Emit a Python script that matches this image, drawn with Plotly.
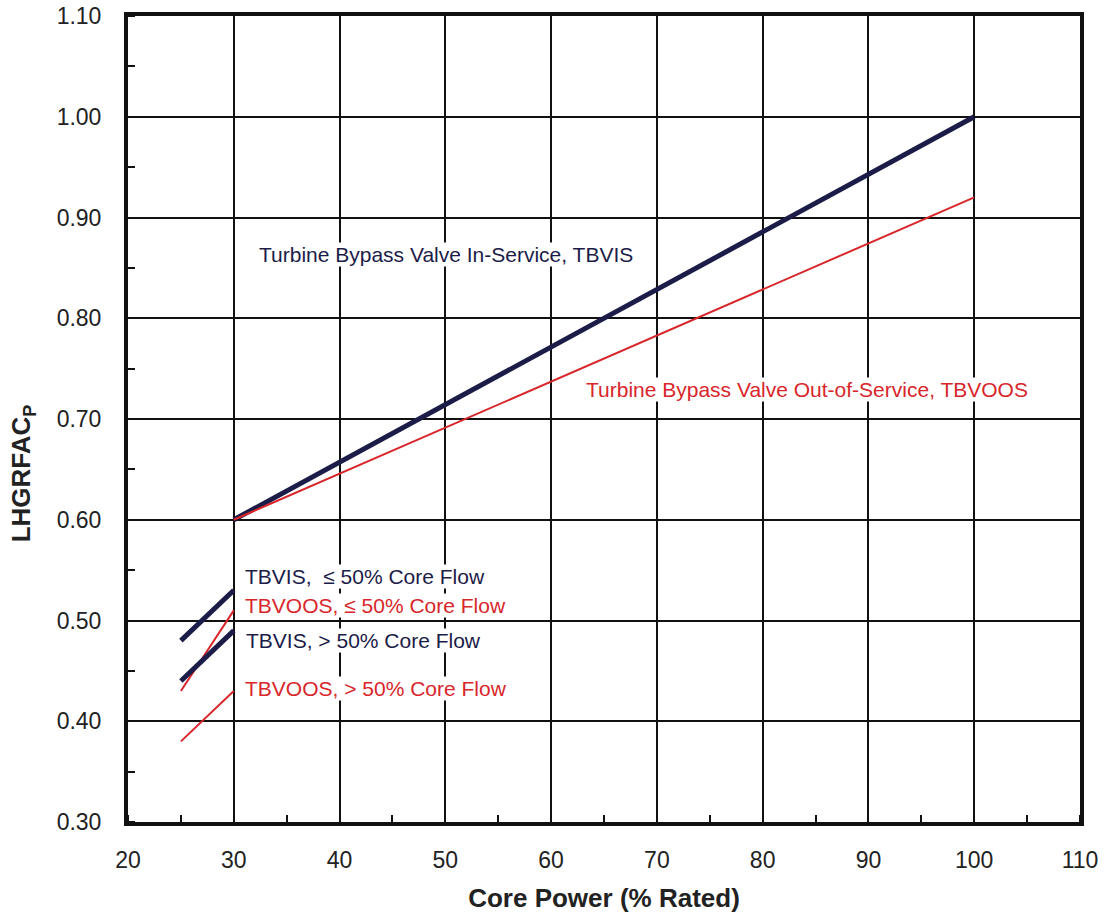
import plotly.graph_objects as go

# Data
power_main = [30, 100]
tbvis_main = [0.60, 1.00]
tbvoos_main = [0.60, 0.92]

power_low = [25, 30]
tbvis_le50 = [0.48, 0.53]
tbvoos_le50 = [0.43, 0.51]
tbvis_gt50 = [0.44, 0.49]
tbvoos_gt50 = [0.38, 0.43]

x_ticks = [20, 30, 40, 50, 60, 70, 80, 90, 100, 110]
y_ticks = [0.30, 0.40, 0.50, 0.60, 0.70, 0.80, 0.90, 1.00, 1.10]

NAVY = "#1c1c48"
RED = "#d8262b"
FONT = "Arial, Liberation Sans, sans-serif"

fig = go.Figure()
fig.add_trace(go.Scatter(x=power_main, y=tbvis_main, mode="lines",
                         line=dict(color=NAVY, width=5)))
fig.add_trace(go.Scatter(x=power_main, y=tbvoos_main, mode="lines",
                         line=dict(color=RED, width=2)))
fig.add_trace(go.Scatter(x=power_low, y=tbvis_le50, mode="lines",
                         line=dict(color=NAVY, width=5)))
fig.add_trace(go.Scatter(x=power_low, y=tbvoos_le50, mode="lines",
                         line=dict(color=RED, width=2)))
fig.add_trace(go.Scatter(x=power_low, y=tbvis_gt50, mode="lines",
                         line=dict(color=NAVY, width=5)))
fig.add_trace(go.Scatter(x=power_low, y=tbvoos_gt50, mode="lines",
                         line=dict(color=RED, width=2)))

labels = [
    ("Turbine Bypass Valve In-Service, TBVIS", 32.3, 0.863, NAVY),
    ("Turbine Bypass Valve Out-of-Service, TBVOOS", 63.2, 0.729, RED),
    ("TBVIS,  \u2264 50% Core Flow", 31.0, 0.544, NAVY),
    ("TBVOOS, \u2264 50% Core Flow", 31.0, 0.515, RED),
    ("TBVIS, > 50% Core Flow", 31.1, 0.480, NAVY),
    ("TBVOOS, > 50% Core Flow", 31.0, 0.433, RED),
]
for text, x, y, c in labels:
    fig.add_annotation(x=x, y=y, text=text, showarrow=False, xanchor="left",
                       yanchor="middle", font=dict(family=FONT, size=21, color=c),
                       bgcolor="white", borderpad=0)

# y-axis title (placed slightly below the plot centre, as in the original)
fig.add_annotation(xref="paper", yref="paper", x=-0.111, y=0.433,
                   text="<b>LHGRFAC<sub>P</sub></b>", textangle=-90, showarrow=False,
                   xanchor="center", yanchor="middle",
                   font=dict(family=FONT, size=26, color="#222"))

fig.update_layout(
    width=1108, height=918,
    margin=dict(l=128, r=28, t=16, b=96),
    paper_bgcolor="white", plot_bgcolor="white",
    showlegend=False,
    font=dict(family=FONT, color="#222"),
)
fig.update_xaxes(
    range=[20, 110], tickvals=x_ticks, ticktext=[str(v) for v in x_ticks],
    showgrid=True, gridcolor="#111", gridwidth=2,
    showline=True, linecolor="#111", linewidth=4, mirror=True,
    ticks="", ticklabelstandoff=14, automargin=False,
    tickfont=dict(size=23, family=FONT, color="#222"),
    minor=dict(dtick=5, tick0=0, ticks="inside", ticklen=7, tickcolor="#111", tickwidth=2, showgrid=False),
    title=dict(text="<b>Core Power (% Rated)</b>", standoff=18,
               font=dict(size=26, family=FONT, color="#222")),
    zeroline=False,
)
fig.update_yaxes(
    range=[0.30, 1.10], tickvals=y_ticks, ticktext=[f"{v:.2f}" for v in y_ticks],
    showgrid=True, gridcolor="#111", gridwidth=2,
    showline=True, linecolor="#111", linewidth=4, mirror=True,
    ticks="", ticklabelstandoff=18, automargin=False,
    tickfont=dict(size=23, family=FONT, color="#222"),
    minor=dict(dtick=0.05, tick0=0, ticks="inside", ticklen=7, tickcolor="#111", tickwidth=2, showgrid=False),
    zeroline=False,
)

fig.write_html("out.html")
